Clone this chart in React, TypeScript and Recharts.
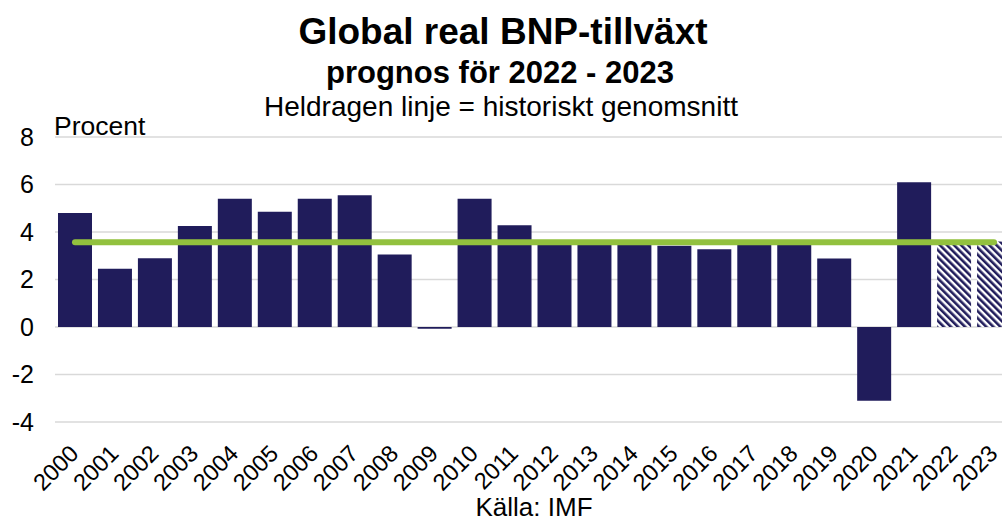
import React from 'react';
import {
  ComposedChart,
  Bar,
  Line,
  Cell,
  XAxis,
  YAxis,
  CartesianGrid,
} from 'recharts';

const years = [
  '2000', '2001', '2002', '2003', '2004', '2005', '2006', '2007', '2008', '2009', '2010', '2011',
  '2012', '2013', '2014', '2015', '2016', '2017', '2018', '2019', '2020', '2021', '2022', '2023',
];

const growth = [
  4.8, 2.45, 2.9, 4.25, 5.4, 4.85, 5.4, 5.55, 3.05, -0.07, 5.4, 4.28,
  3.5, 3.45, 3.55, 3.42, 3.27, 3.65, 3.6, 2.88, -3.1, 6.1, 3.6, 3.6,
];

const forecastYears = ['2022', '2023'];

const historicalAverage = [
  3.57, 3.57, 3.57, 3.57, 3.57, 3.57, 3.57, 3.57, 3.57, 3.57, 3.57, 3.57,
  3.57, 3.57, 3.57, 3.57, 3.57, 3.57, 3.57, 3.57, 3.57, 3.57, 3.57, 3.57,
];

const yTicks = [-4, -2, 0, 2, 4, 6, 8];

const FONT = '"Liberation Sans", Arial, sans-serif';
const NAVY = '#201c5b';
const GREEN = '#92c13e';

const data = years.map((year, i) => ({
  year,
  growth: growth[i],
  avg: historicalAverage[i],
}));

function YearTick(props: any) {
  const { x, y, payload } = props;
  const tx = x + 5;
  const ty = y + 25;
  return (
    <text
      x={tx}
      y={ty}
      textAnchor="end"
      fontSize={23.5}
      fontFamily={FONT}
      fill="#000"
      transform={`rotate(-45, ${tx}, ${ty})`}
    >
      {payload.value}
    </text>
  );
}

export default function App() {
  return (
    <div style={{ position: 'relative', width: 1002, height: 522, overflow: 'hidden', background: '#fff' }}>
      <style>{'body{margin:0}'}</style>
      <div style={{ position: 'absolute', left: 0, top: 0 }}>
        <ComposedChart
          width={1020}
          height={522}
          data={data}
          margin={{ top: 137, right: 6, left: 0, bottom: 0 }}
          barCategoryGap="7.5%"
        >
          <defs>
            <pattern
              id="hatch"
              patternUnits="userSpaceOnUse"
              width={5}
              height={5}
              patternTransform="rotate(-45)"
            >
              <rect x={0} y={0} width={5} height={5} fill="#fff" />
              <rect x={0} y={0} width={2.6} height={5} fill={NAVY} />
            </pattern>
          </defs>
          <CartesianGrid vertical={false} stroke="#d9d9d9" strokeWidth={1.6} />
          <XAxis
            dataKey="year"
            axisLine={false}
            tickLine={false}
            height={100}
            interval={0}
            tick={<YearTick />}
          />
          <YAxis
            type="number"
            domain={[-4, 8]}
            ticks={yTicks}
            width={55}
            axisLine={false}
            tickLine={false}
            tickSize={0}
            tickMargin={21}
            tick={{ fill: '#000', fontSize: 25, fontFamily: FONT }}
          />
          <Bar dataKey="growth" isAnimationActive={false}>
            {data.map((d) => (
              <Cell
                key={d.year}
                fill={forecastYears.includes(d.year) ? 'url(#hatch)' : NAVY}
              />
            ))}
          </Bar>
          <Line
            dataKey="avg"
            type="linear"
            stroke={GREEN}
            strokeWidth={6}
            strokeLinecap="round"
            dot={false}
            activeDot={false}
            isAnimationActive={false}
          />
        </ComposedChart>
      </div>
      <svg
        width={1002}
        height={522}
        style={{ position: 'absolute', left: 0, top: 0, pointerEvents: 'none' }}
        fontFamily={FONT}
      >
        <text x={503} y={44} textAnchor="middle" fontSize={37} fontWeight="bold">
          Global real BNP-tillväxt
        </text>
        <text x={500} y={83} textAnchor="middle" fontSize={31} fontWeight="bold">
          prognos för 2022 - 2023
        </text>
        <text x={501} y={116} textAnchor="middle" fontSize={28}>
          Heldragen linje = historiskt genomsnitt
        </text>
        <text x={54} y={135} fontSize={26.5}>
          Procent
        </text>
        <text x={534} y={516} textAnchor="middle" fontSize={26}>
          Källa: IMF
        </text>
      </svg>
    </div>
  );
}
